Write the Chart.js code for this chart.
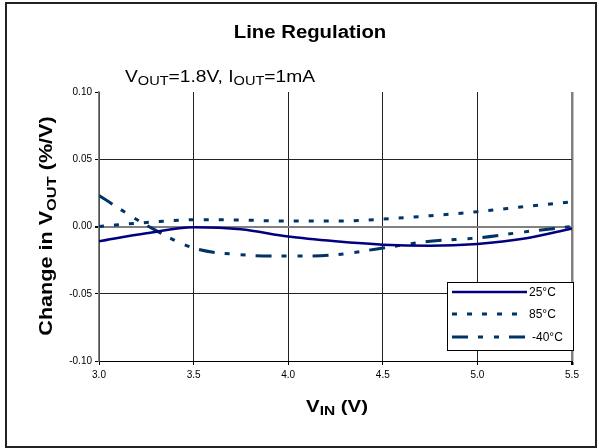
<!DOCTYPE html>
<html>
<head>
<meta charset="utf-8">
<script src="https://cdn.jsdelivr.net/npm/chart.js@4.4.0/dist/chart.umd.min.js"></script>
<style>
  html, body { margin: 0; padding: 0; background: #fff; }
  #wrap { width: 599px; height: 448px; position: relative; }
</style>
</head>
<body>
<div id="wrap"><canvas id="chart" width="599" height="448"></canvas></div>
<script>
// input voltage (V)
const vin = [3.0, 3.25, 3.5, 3.75, 4.0, 4.25, 4.5, 4.75, 5.0, 5.25, 5.5];
// change in Vout (%/V) per temperature
const t25 = [-0.011, -0.005, -0.0005, -0.002, -0.0075, -0.011, -0.0135, -0.0143, -0.013, -0.009, -0.0015];
const t85 = [0.000, 0.003, 0.005, 0.0048, 0.004, 0.004, 0.0055, 0.008, 0.011, 0.0148, 0.0184];
const tm40 = [0.023, 0.001, -0.016, -0.021, -0.022, -0.021, -0.016, -0.011, -0.0085, -0.004, 0.000];
const seriesNames = ['25°C', '85°C', '-40°C'];

const FONT = '"Liberation Sans", Arial, sans-serif';

function pts(ys) {
    return ys.map((y, i) => ({ x: vin[i], y: y }));
}

// draws text made of normal and subscript parts, centred on cx, stretched by sx
function drawRich(ctx, parts, cx, y, size, bold, sx) {
    const fontOf = p => (bold ? 'bold ' : '') + (p.sub ? size * 0.76 : size) + 'px ' + FONT;
    const w = parts.reduce((s, p) => {
        ctx.font = fontOf(p);
        return s + ctx.measureText(p.t).width;
    }, 0);
    ctx.save();
    ctx.translate(cx, y);
    ctx.scale(sx || 1, 1);
    let x = -w / 2;
    parts.forEach(p => {
        ctx.font = fontOf(p);
        ctx.fillText(p.t, x, p.sub ? size * 0.2 : 0);
        x += ctx.measureText(p.t).width;
    });
    ctx.restore();
}

const decor = {
    id: 'decor',
    afterDraw(chart) {
        const ctx = chart.ctx;
        ctx.save();
        // outer frame
        ctx.strokeStyle = '#222';
        ctx.lineWidth = 2;
        ctx.strokeRect(6, 3, 590, 444);

        ctx.fillStyle = '#000';
        ctx.textBaseline = 'alphabetic';
        ctx.textAlign = 'left';
        // title
        drawRich(ctx, [{ t: 'Line Regulation' }], 310, 38, 18, true, 1.13);
        // condition note
        drawRich(ctx, [
            { t: 'V' }, { t: 'OUT', sub: true }, { t: '=1.8V, I' },
            { t: 'OUT', sub: true }, { t: '=1mA' }
        ], 220, 82, 16, false, 1.2);
        // x axis title
        drawRich(ctx, [{ t: 'V' }, { t: 'IN', sub: true }, { t: ' (V)' }], 337, 412, 17, true, 1.2);
        // y axis title
        ctx.save();
        ctx.translate(52, 226);
        ctx.rotate(-Math.PI / 2);
        drawRich(ctx, [{ t: 'Change in V' }, { t: 'OUT', sub: true }, { t: ' (%/V)' }], 0, 0, 18, true, 1.2);
        ctx.restore();

        // legend box
        const bx = 447, by = 282, bw = 126, bh = 68;
        ctx.fillStyle = '#fff';
        ctx.fillRect(bx, by, bw, bh);
        ctx.strokeStyle = '#000';
        ctx.lineWidth = 1;
        ctx.strokeRect(bx + 0.5, by + 0.5, bw, bh);
        const rows = [292, 314, 337];
        chart.data.datasets.forEach((ds, i) => {
            ctx.strokeStyle = ds.borderColor;
            ctx.lineWidth = ds.borderWidth;
            ctx.setLineDash(ds.borderDash || []);
            ctx.beginPath();
            ctx.moveTo(452, rows[i]);
            ctx.lineTo(527, rows[i]);
            ctx.stroke();
            ctx.setLineDash([]);
            ctx.fillStyle = '#000';
            ctx.font = '12px ' + FONT;
            ctx.textBaseline = 'middle';
            ctx.fillText(ds.label, i === 2 ? 532 : 529, rows[i] + 1);
        });
        ctx.restore();
    }
};

new Chart(document.getElementById('chart'), {
    type: 'line',
    data: {
        datasets: [{
            label: seriesNames[0],
            data: pts(t25),
            borderColor: '#000080',
            borderWidth: 2.5,
            pointRadius: 0,
            cubicInterpolationMode: 'monotone'
        }, {
            label: seriesNames[1],
            data: pts(t85),
            borderColor: '#003366',
            borderWidth: 3,
            borderDash: [5, 10],
            pointRadius: 0,
            cubicInterpolationMode: 'monotone'
        }, {
            label: seriesNames[2],
            data: pts(tm40),
            borderColor: '#003366',
            borderWidth: 3,
            borderDash: [16, 10, 5, 11, 5, 10],
            pointRadius: 0,
            cubicInterpolationMode: 'monotone'
        }]
    },
    options: {
        responsive: false,
        animation: false,
        layout: { padding: { left: 0, top: 92, right: 27, bottom: 0 } },
        plugins: {
            legend: { display: false },
            title: { display: false },
            tooltip: { enabled: false }
        },
        scales: {
            x: {
                type: 'linear',
                min: 3.0,
                max: 5.5,
                afterFit: s => { s.height = 87; },
                ticks: {
                    stepSize: 0.5,
                    color: '#000',
                    font: { family: FONT, size: 10 },
                    padding: 4,
                    maxRotation: 0,
                    callback: v => v.toFixed(1)
                },
                grid: {
                    color: c => c.tick && Math.abs(c.tick.value - 5.5) < 1e-6 ? '#808080' : '#222',
                    lineWidth: c => c.tick && Math.abs(c.tick.value - 5.5) < 1e-6 ? 2.5 : 1,
                    tickColor: '#000',
                    tickLength: 4
                },
                border: { color: '#000', width: 1 }
            },
            y: {
                min: -0.10,
                max: 0.10,
                afterFit: s => { s.width = 99; },
                ticks: {
                    stepSize: 0.05,
                    color: '#000',
                    font: { family: FONT, size: 10 },
                    padding: 3,
                    callback: v => Math.abs(v) < 1e-9 ? '0.00' : v.toFixed(2)
                },
                grid: {
                    color: c => {
                        if (!c.tick) return '#222';
                        if (Math.abs(c.tick.value) < 1e-9) return '#808080';
                        if (Math.abs(c.tick.value - 0.1) < 1e-9) return 'rgba(0,0,0,0)';
                        return '#222';
                    },
                    lineWidth: c => c.tick && Math.abs(c.tick.value) < 1e-9 ? 2 : 1,
                    tickColor: '#000',
                    tickLength: 4
                },
                border: { color: '#808080', width: 1.5 }
            }
        }
    },
    plugins: [decor]
});
</script>
</body>
</html>
